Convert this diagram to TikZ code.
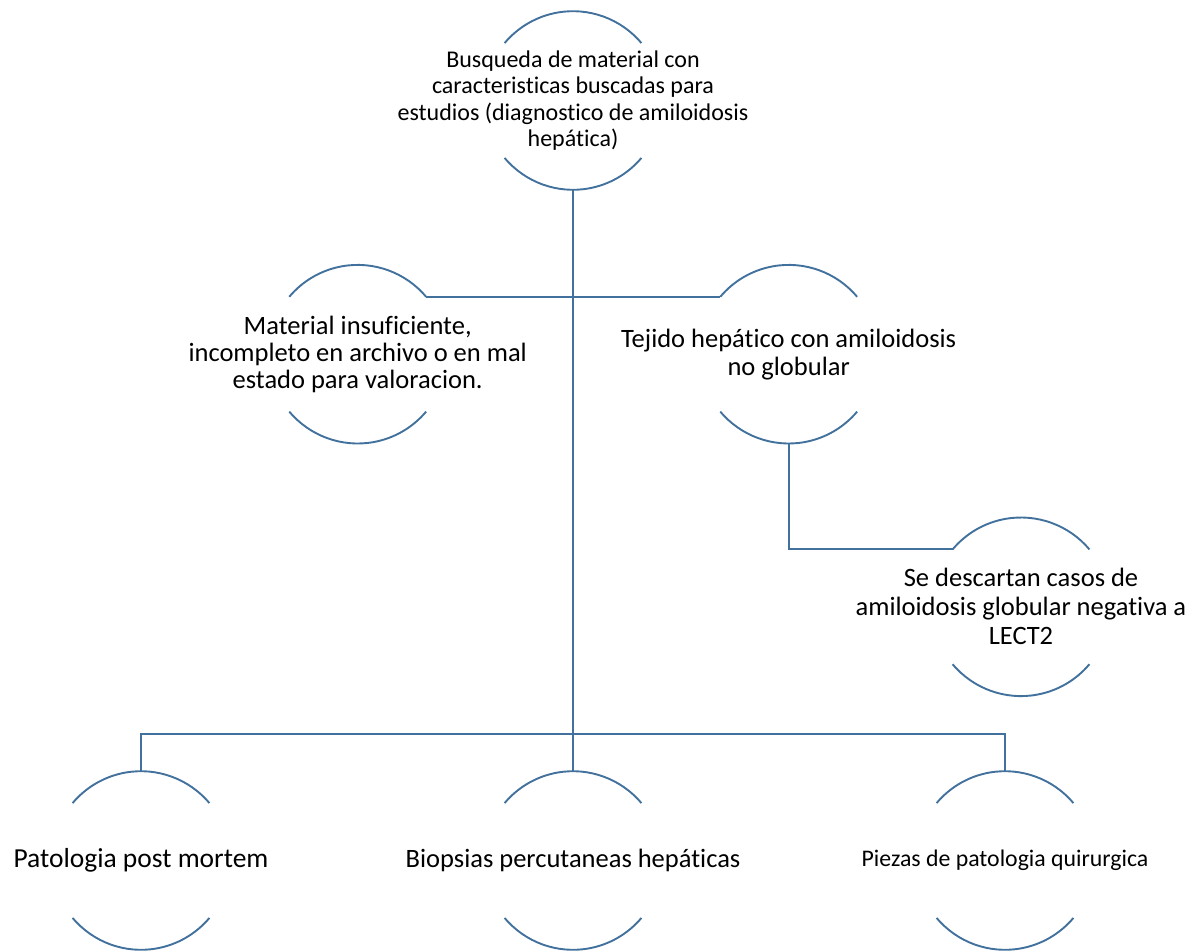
\documentclass[tikz,border=0pt]{standalone}
\usepackage{fontspec}
\setmainfont{Carlito}[Ligatures=NoCommon]
\definecolor{lineblue}{RGB}{65,113,156}
\tikzset{
  ring/.style={circle, draw=none, minimum size=178.6pt, inner sep=0pt, outer sep=0pt},
  txt/.style={align=center, inner sep=0pt, text=black},
  arcline/.style={draw=lineblue, line width=1.9pt},
  conn/.style={draw=lineblue, line width=1.9pt},
}
\newcommand{\ringarcs}[1]{%
  \draw[arcline] (#1.40) arc[start angle=40, end angle=140, radius=89.3pt];
  \draw[arcline] (#1.220) arc[start angle=220, end angle=320, radius=89.3pt];
}
\begin{document}
\begin{tikzpicture}[x=1pt,y=1pt]
\useasboundingbox (0,0) rectangle (1202,-951);
% ring nodes
\node[ring] (top) at (573,-100.5) {};
\node[ring] (lm)  at (357.7,-354.2) {};
\node[ring] (rm)  at (788.7,-354.2) {};
\node[ring] (ds)  at (1021,-606.8) {};
\node[ring] (bl)  at (141,-860.5) {};
\node[ring] (bm)  at (573,-860.5) {};
\node[ring] (br)  at (1005,-860.5) {};
\ringarcs{top}
\ringarcs{lm}
\ringarcs{rm}
\ringarcs{ds}
\ringarcs{bl}
\ringarcs{bm}
\ringarcs{br}
% texts
\node[txt, font=\fontsize{24}{26.3}\selectfont] (topt) at (top) {Busqueda de material con\\caracteristicas buscadas para\\estudios (diagnostico de amiloidosis\\hepática)};
\node[txt, font=\fontsize{26.5}{26.8}\selectfont] (lmt) at (lm) {Material insuficiente,\\incompleto en archivo o en mal\\estado para valoracion.};
\node[txt, font=\fontsize{26.5}{28}\selectfont] (rmt) at (rm) {Tejido hepático con amiloidosis\\no globular};
\node[txt, font=\fontsize{26.5}{29}\selectfont] (dst) at (ds) {Se descartan casos de\\amiloidosis globular negativa a\\LECT2};
\node[txt, font=\fontsize{27.5}{30}\selectfont] (blt) at (bl) {Patologia post mortem};
\node[txt, font=\fontsize{26.5}{30}\selectfont] (bmt) at (bm) {Biopsias percutaneas hepáticas};
\node[txt, font=\fontsize{23.8}{28}\selectfont] (brt) at (br) {Piezas de patologia quirurgica};
% connectors
\coordinate (bus) at (573,-734);
\draw[conn] (top.south) |- (lm.40);
\draw[conn] (top.south) |- (rm.140);
\draw[conn] (top.south) -- (bus);
\draw[conn] (bus) -- (bm.north);
\draw[conn] (bus) -| (bl.north);
\draw[conn] (bus) -| (br.north);
\draw[conn] (rm.south) |- (ds.140);
\end{tikzpicture}
\end{document}
